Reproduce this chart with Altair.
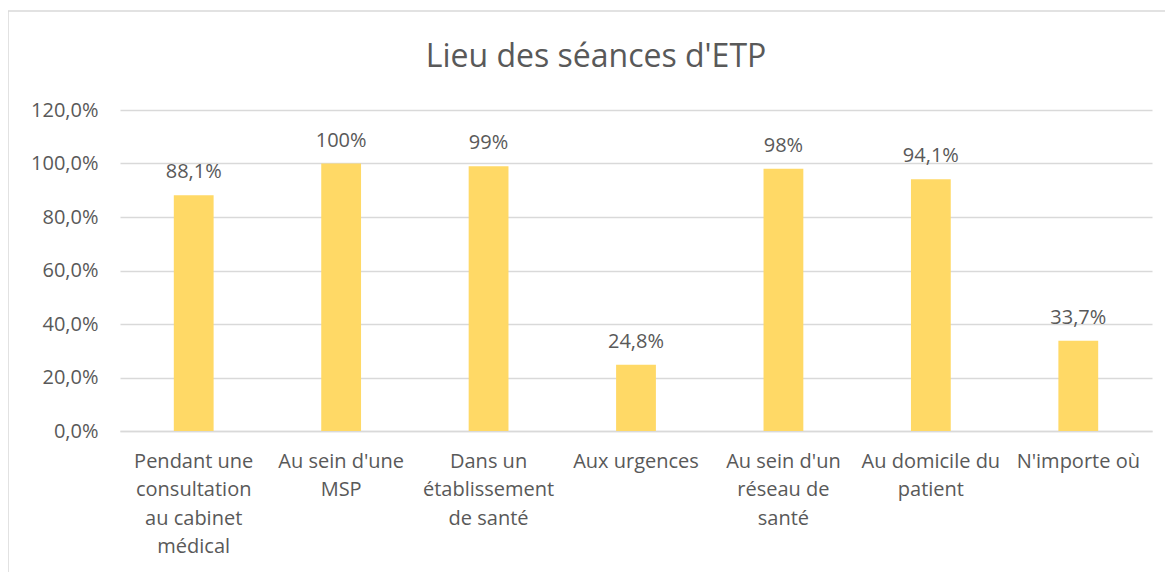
import altair as alt
import pandas as pd

categories = [
    "Pendant une\nconsultation\nau cabinet\nmédical",
    "Au sein d'une\nMSP",
    "Dans un\nétablissement\nde santé",
    "Aux urgences",
    "Au sein d'un\nréseau de\nsanté",
    "Au domicile du\npatient",
    "N'importe où",
]
values = [0.881, 1.00, 0.99, 0.248, 0.98, 0.941, 0.337]
value_labels = ["88,1%", "100%", "99%", "24,8%", "98%", "94,1%", "33,7%"]

df = pd.DataFrame({"cat": categories, "val": values, "lab": value_labels})

FONT = "Open Sans"
TXT = "#595959"
GRID = "#d9d9d9"
FS = 20

x = alt.X("cat:N", sort=categories, title=None,
          scale=alt.Scale(paddingInner=0.73, paddingOuter=0.365),
          axis=alt.Axis(labelAngle=0, labelExpr="split(datum.label, '\\n')",
                        labelFontSize=FS, labelLineHeight=28.5, labelColor=TXT,
                        labelFont=FONT, labelPadding=20, ticks=False,
                        domainColor=GRID, domainWidth=1.5, labelLimit=200))
y = alt.Y("val:Q", title=None,
          scale=alt.Scale(domain=[0, 1.2], nice=False),
          axis=alt.Axis(values=[0, 0.2, 0.4, 0.6, 0.8, 1.0, 1.2],
                        labelExpr="replace(format(datum.value, '.1%'), '.', ',')",
                        labelFontSize=FS, labelColor=TXT, labelFont=FONT,
                        ticks=False, domain=False, gridColor=GRID, gridWidth=1.5,
                        labelPadding=22))

bars = alt.Chart(df).mark_bar(color="#FFD966").encode(x=x, y=y)
labels = alt.Chart(df).mark_text(baseline="bottom", dy=-13, fontSize=FS,
                                 font=FONT, color=TXT).encode(
    x=alt.X("cat:N", sort=categories), y="val:Q", text="lab:N")

frame = alt.Chart(pd.DataFrame({"a": [0]})).mark_rect(
    fill=None, stroke=GRID, strokeWidth=1.5).encode(
    x=alt.value(-112), y=alt.value(-99), x2=alt.value(1100), y2=alt.value(500))

chart = alt.layer(frame, bars, labels).properties(
    width=1032, height=321,
    padding={"left": 112, "top": 102, "right": 13, "bottom": 141},
    autosize=alt.AutoSizeParams(type="none"),
    title=alt.TitleParams("Lieu des séances d'ETP", fontSize=32, font=FONT,
                          color=TXT, fontWeight="normal", anchor="middle",
                          dx=-40, offset=-64),
).configure_view(stroke=None)

chart.save("out.html", embed_options={"renderer": "svg", "actions": False})
